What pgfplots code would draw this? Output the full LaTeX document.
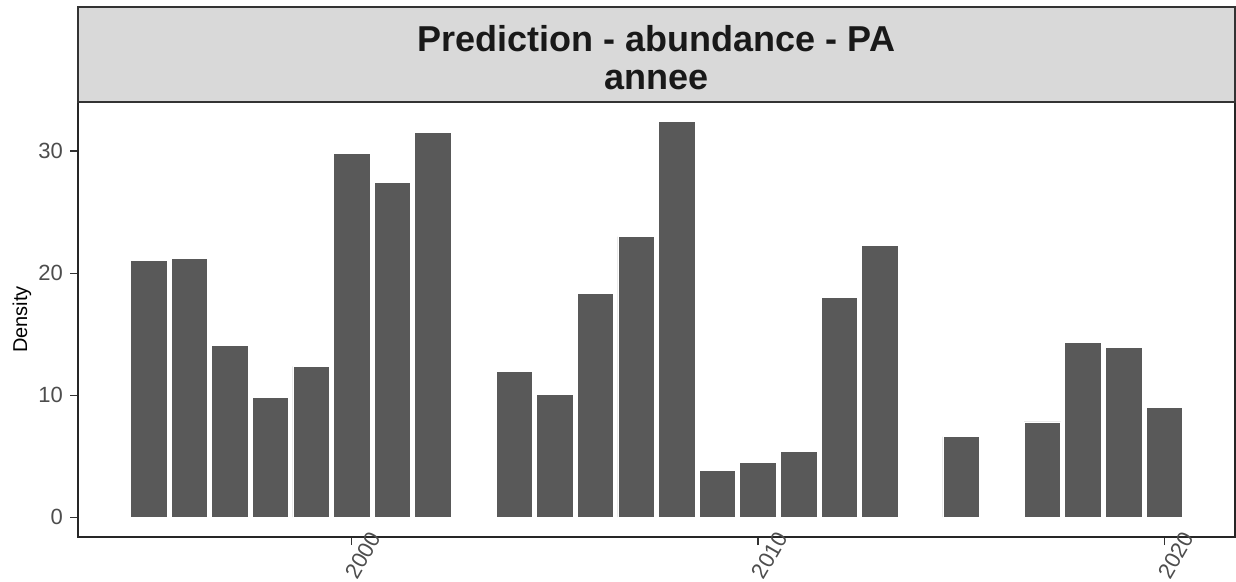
\documentclass[border=0pt]{standalone}
\usepackage{fontspec}
\setmainfont{Liberation Sans}
\usepackage{pgfplots}
\pgfplotsset{compat=1.18}
\usepackage{pgfplotstable}

\definecolor{barfill}{RGB}{89,89,89}
\definecolor{stripfill}{RGB}{217,217,217}
\definecolor{ticktext}{RGB}{77,77,77}
\definecolor{framecol}{RGB}{51,51,51}

% predicted density per year
\pgfplotstableread{
year value
1995 21.04
1996 21.20
1997 14.08
1998 9.81
1999 12.37
2000 29.83
2001 27.42
2002 31.49
2004 11.96
2005 10.09
2006 18.31
2007 23.00
2008 32.40
2009 3.87
2010 4.47
2011 5.39
2012 17.98
2013 22.24
2015 6.61
2017 7.81
2018 14.35
2019 13.91
2020 9.03
}\densdata

\begin{document}
\begin{tikzpicture}
\begin{axis}[
  name=ax,
  scale only axis,
  width=578.5pt, height=217.5pt,
  xmin=1993.26, xmax=2021.74,
  ymin=-1.62, ymax=34.02,
  ybar, bar width=0.9,
  xtick={2000,2010,2020},
  xticklabels={2000,2010,2020},
  ytick={0,10,20,30},
  xtick pos=bottom, ytick pos=left,
  tick align=outside,
  major tick length=4pt,
  tick style={framecol, line width=0.6pt},
  axis line style={black!85, line width=0.7pt},
  /pgf/number format/assume math mode=true,
  tick label style={font=\fontsize{11}{13}\selectfont, text=ticktext},
  xticklabel style={xshift=5.75pt, yshift=-5.25pt, rotate=60, anchor=center},
  yticklabel style={xshift=0pt},
]
\addplot[fill=barfill, draw=white, line width=0.4pt] table[x=year, y=value] {\densdata};
\end{axis}
\draw[framecol, line width=0.65pt, fill=stripfill] (ax.north west) rectangle ([yshift=47.5pt]ax.north east);
\node[anchor=base, font=\fontsize{18}{19}\selectfont\bfseries, text=black!90] at ([yshift=25.5pt]ax.north) {Prediction - abundance - PA};
\node[anchor=base, font=\fontsize{18}{19}\selectfont\bfseries, text=black!90] at ([yshift=6.5pt]ax.north) {annee};
\node[rotate=90, font=\fontsize{10}{12}\selectfont] at ([xshift=-28pt]ax.west) {Density};
\pgfresetboundingbox
\path[use as bounding box] ([xshift=-39pt, yshift=-22pt]ax.south west) rectangle ([xshift=0.5pt, yshift=51pt]ax.north east);
\end{tikzpicture}
\end{document}
